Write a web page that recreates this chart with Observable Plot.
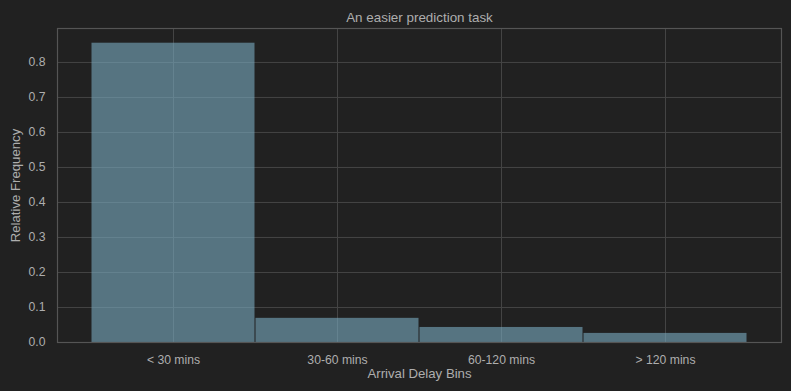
<!DOCTYPE html>
<html>
<head>
<meta charset="utf-8">
<script src="https://cdn.jsdelivr.net/npm/d3@7"></script>
<script src="https://cdn.jsdelivr.net/npm/@observablehq/plot@0.6"></script>
<style>
  html, body { margin: 0; padding: 0; background: #212121; }
  #chart svg { display: block; }
</style>
</head>
<body>
<div id="chart"></div>
<script>
const categories = ["< 30 mins", "30-60 mins", "60-120 mins", "> 120 mins"];
const frequencies = [0.855, 0.069, 0.043, 0.026];
const yTicks = [0, 0.1, 0.2, 0.3, 0.4, 0.5, 0.6, 0.7, 0.8];
const title = "An easier prediction task";
const xLabel = "Arrival Delay Bins";
const yLabel = "Relative Frequency";

const data = categories.map((c, i) => ({bin: c, freq: frequencies[i]}));

const textColor = "#aeaeae";
const gridColor = "#444444";

const chart = Plot.plot({
  width: 791,
  height: 391,
  marginLeft: 57,
  marginRight: 10,
  marginTop: 28,
  marginBottom: 49,
  style: {background: "#212121", color: textColor, fontFamily: "'Liberation Sans', Arial, sans-serif", fontSize: "12px"},
  x: {domain: categories, paddingInner: 0, paddingOuter: 0.2, label: null},
  y: {domain: [0, 0.897], label: null},
  marks: [
    Plot.gridY(yTicks, {stroke: gridColor, strokeOpacity: 1, strokeWidth: 1}),
    Plot.gridX(categories, {stroke: gridColor, strokeOpacity: 1, strokeWidth: 1}),
    Plot.barY(data, {x: "bin", y: "freq", fill: "rgb(122,172,194)", fillOpacity: 0.6, insetLeft: 0.5, insetRight: 0.5}),
    Plot.frame({stroke: "#555555", strokeWidth: 1.2}),
    Plot.axisY(yTicks, {tickSize: 0, tickPadding: 12, tickFormat: d3.format(".1f"), fill: textColor, fontSize: 12.2, label: null}),
    Plot.axisX(categories, {tickSize: 0, tickPadding: 13, fill: textColor, fontSize: 12.2, label: null}),
    Plot.text([title], {frameAnchor: "top", textAnchor: "middle", dy: -16, fill: textColor, fontSize: 13.4}),
    Plot.text([xLabel], {frameAnchor: "bottom", textAnchor: "middle", dy: 35, fill: textColor, fontSize: 13.2}),
    Plot.text([yLabel], {frameAnchor: "left", textAnchor: "middle", dx: -42, rotate: -90, fill: textColor, fontSize: 13.2})
  ]
});
document.getElementById("chart").appendChild(chart);
</script>
</body>
</html>
